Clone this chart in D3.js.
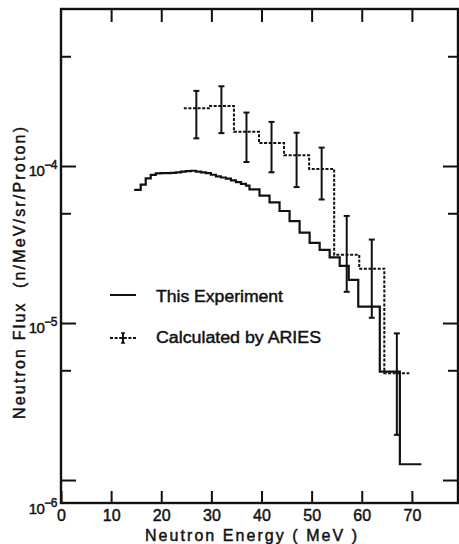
<!DOCTYPE html>
<html>
<head>
<meta charset="utf-8">
<script src="https://cdn.jsdelivr.net/npm/d3@7"></script>
<style>
  html, body { margin: 0; padding: 0; background: #fff; }
  svg { display: block; font-family: "Liberation Sans", Arial, sans-serif; }
  .ink { stroke: #111; fill: none; }
  text { fill: #111; stroke: #111; stroke-width: 0.45px; }
</style>
</head>
<body>
<svg id="chart" width="459" height="544"></svg>
<script>
// "This Experiment" histogram: bin edges (MeV) and flux per bin
const expEdges = [14.6, 15.9, 16.9, 17.9, 18.9, 19.9, 20.9, 21.9, 22.9, 23.9, 24.9, 25.9,
  26.9, 27.9, 28.9, 29.9, 30.9, 31.9, 32.9, 33.9, 34.9, 35.9, 36.9, 37.6,
  39.6, 41.6, 43.6, 45.6, 47.6, 49.6, 51.6, 53.6, 55.6, 57.4, 59.3, 63.6, 67.6, 71.9];
const expFlux = [7.04e-5, 7.6e-5, 8.35e-5, 8.77e-5, 8.98e-5, 9.0e-5, 9.02e-5, 9.05e-5,
  9.1e-5, 9.2e-5, 9.28e-5, 9.33e-5, 9.2e-5, 9.1e-5, 9.0e-5, 8.8e-5, 8.6e-5, 8.45e-5,
  8.3e-5, 8.1e-5, 7.9e-5, 7.7e-5, 7.5e-5, 7.1e-5, 6.48e-5, 5.86e-5, 5.17e-5, 4.46e-5,
  3.77e-5, 3.24e-5, 2.92e-5, 2.62e-5, 2.31e-5, 1.88e-5, 1.27e-5, 4.9e-6, 1.26e-6];

// ARIES calculation: 5 MeV bins with error bars at bin centres
const ariesEdges = [24.5, 29.5, 34.5, 39.5, 44.5, 49.5, 54.5, 59.5, 64.5, 69.5];
const ariesFlux = [2.33e-4, 2.41e-4, 1.65e-4, 1.40e-4, 1.17e-4, 9.57e-5, 2.72e-5, 2.22e-5, 4.79e-6];
const ariesCentre = [27, 32, 37, 42, 47, 52, 57, 62, 67];
const ariesLow = [1.50e-4, 1.62e-4, 1.06e-4, 9.12e-5, 7.34e-5, 6.12e-5, 1.58e-5, 1.08e-5, 1.94e-6];
const ariesHigh = [3.01e-4, 3.22e-4, 2.19e-4, 1.91e-4, 1.63e-4, 1.31e-4, 4.81e-5, 3.40e-5, 8.59e-6];

// axes
const xTicks = [0, 10, 20, 30, 40, 50, 60, 70];
const yMajor = [1e-4, 1e-5, 1e-6];
const yMinor = [5e-4, 5e-5, 5e-6];
const yExp = ['-4', '-5', '-6'];

const svg = d3.select('#chart');
const plotL = 61, plotR = 458, plotT = 9, plotB = 503;

const x = d3.scaleLinear().domain([0, 79.2]).range([plotL, plotR]);
const y = d3.scaleLog().domain([7.14e-7, 1e-3]).range([plotB, plotT]);

// ticks (all pointing inward)
function strip(g) {
  g.select('.domain').remove();
  g.selectAll('line').attr('stroke', '#111').attr('stroke-width', 2);
}

svg.append('g')
  .attr('transform', `translate(0,${plotB})`)
  .call(d3.axisBottom(x).tickValues(xTicks).tickSize(-12).tickPadding(7))
  .call(strip)
  .call(g => g.selectAll('text')
    .attr('font-size', 16)
    .attr('font-family', '"Liberation Sans", Arial, sans-serif')
    .attr('fill', '#111'));

svg.append('g')
  .attr('transform', `translate(0,${plotT})`)
  .call(d3.axisTop(x).tickValues(xTicks.slice(1)).tickSize(-13).tickFormat(''))
  .call(strip);

svg.append('g')
  .attr('transform', `translate(${plotL},0)`)
  .call(d3.axisLeft(y).tickValues(yMajor).tickSize(-15).tickFormat(''))
  .call(strip);
svg.append('g')
  .attr('transform', `translate(${plotL},0)`)
  .call(d3.axisLeft(y).tickValues(yMinor).tickSize(-10).tickFormat(''))
  .call(strip);
svg.append('g')
  .attr('transform', `translate(${plotR},0)`)
  .call(d3.axisRight(y).tickValues(yMajor).tickSize(-15).tickFormat(''))
  .call(strip);
svg.append('g')
  .attr('transform', `translate(${plotR},0)`)
  .call(d3.axisRight(y).tickValues(yMinor).tickSize(-10).tickFormat(''))
  .call(strip);

// frame
svg.append('rect')
  .attr('class', 'ink')
  .attr('x', plotL).attr('y', plotT)
  .attr('width', plotR - plotL).attr('height', plotB - plotT)
  .attr('stroke-width', 2.4);

// y tick labels 10^-n (the lowest one sits at the corner)
yMajor.forEach((v, i) => {
  const base = i === yMajor.length - 1 ? plotB + 11 : y(v) + 10;
  const t = svg.append('text')
    .attr('x', 57).attr('y', base)
    .attr('text-anchor', 'end')
    .attr('font-size', 15)
    .attr('letter-spacing', -0.5);
  t.append('tspan').text('10');
  t.append('tspan').attr('dy', -7).attr('font-size', 12).text('−' + yExp[i].slice(1));
});

// axis titles
svg.append('text')
  .attr('x', 251).attr('y', 541)
  .attr('text-anchor', 'middle')
  .attr('font-size', 16)
  .attr('textLength', 212).attr('lengthAdjust', 'spacing')
  .text('Neutron Energy ( MeV )');

svg.append('text')
  .attr('transform', 'translate(25,273) rotate(-90)')
  .attr('text-anchor', 'middle')
  .attr('font-size', 16)
  .attr('textLength', 292).attr('lengthAdjust', 'spacing')
  .style('white-space', 'pre')
  .text('Neutron Flux  (n/MeV/sr/Proton)');

// step lines
const step = d3.line()
  .x(d => x(d[0]))
  .y(d => y(d[1]))
  .curve(d3.curveStepAfter);

const expPts = expFlux.map((v, i) => [expEdges[i], v]);
expPts.push([expEdges[expEdges.length - 1], expFlux[expFlux.length - 1]]);

const ariesPts = ariesFlux.map((v, i) => [ariesEdges[i], v]);
ariesPts.push([ariesEdges[ariesEdges.length - 1], ariesFlux[ariesFlux.length - 1]]);

svg.append('path')
  .attr('class', 'ink')
  .attr('stroke-width', 2)
  .attr('stroke-dasharray', '3,1.6')
  .attr('d', step(ariesPts));

svg.append('path')
  .attr('class', 'ink')
  .attr('stroke-width', 2.2)
  .attr('stroke-linejoin', 'miter')
  .attr('d', step(expPts));

// error bars
const bars = svg.append('g').attr('class', 'ink').attr('stroke-width', 2);
ariesCentre.forEach((c, i) => {
  const cx = x(c);
  bars.append('line')
    .attr('x1', cx).attr('x2', cx)
    .attr('y1', y(ariesLow[i])).attr('y2', y(ariesHigh[i]));
  [ariesLow[i], ariesHigh[i]].forEach(v => {
    bars.append('line')
      .attr('x1', cx - 3).attr('x2', cx + 3)
      .attr('y1', y(v)).attr('y2', y(v));
  });
});

// legend
const lg = svg.append('g');
lg.append('line')
  .attr('class', 'ink').attr('stroke-width', 2)
  .attr('x1', 110).attr('x2', 136).attr('y1', 295).attr('y2', 295);
lg.append('text')
  .attr('x', 156).attr('y', 302)
  .attr('font-size', 16)
  .attr('textLength', 127).attr('lengthAdjust', 'spacingAndGlyphs')
  .text('This Experiment');

lg.append('line')
  .attr('class', 'ink').attr('stroke-width', 2)
  .attr('stroke-dasharray', '3,1.6')
  .attr('x1', 110).attr('x2', 136).attr('y1', 338).attr('y2', 338);
lg.append('line')
  .attr('class', 'ink').attr('stroke-width', 2)
  .attr('x1', 123).attr('x2', 123).attr('y1', 333).attr('y2', 343);
lg.append('line')
  .attr('class', 'ink').attr('stroke-width', 1.5)
  .attr('x1', 121).attr('x2', 125).attr('y1', 333).attr('y2', 333);
lg.append('line')
  .attr('class', 'ink').attr('stroke-width', 1.5)
  .attr('x1', 121).attr('x2', 125).attr('y1', 343).attr('y2', 343);
lg.append('text')
  .attr('x', 156).attr('y', 343)
  .attr('font-size', 16)
  .attr('textLength', 165).attr('lengthAdjust', 'spacingAndGlyphs')
  .text('Calculated by ARIES');
</script>
</body>
</html>
